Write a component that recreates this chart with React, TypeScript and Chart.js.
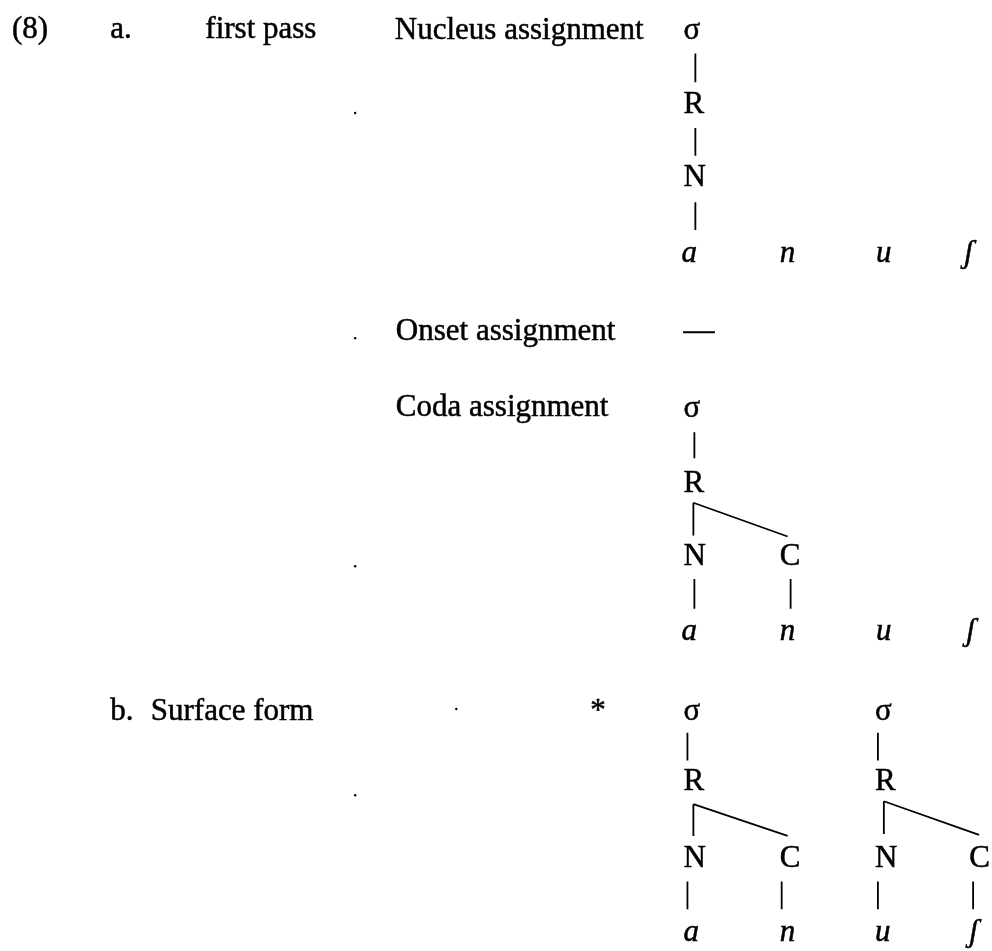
import React, { useEffect, useRef } from "react";
import { Chart, registerables } from "chart.js";

Chart.register(...registerables);

// Diagram coordinate space: x 0..992 (left→right), y 0..951 (top→bottom)
const W = 992;
const H = 951;

// Plain labels (upright text), anchored left at baseline
const labelTexts = ["(8)", "a.", "first pass", "Nucleus assignment", "Onset assignment", "—", "Coda assignment", "b.", "Surface form", "*"];
const labelX = [8, 107, 203, 394, 395, 685, 395, 107, 148, 591];
const labelY = [34, 34, 34, 35, 339, 339, 415, 722, 722, 722];

// Tree node symbols (upright)
const nodeTexts = ["σ", "R", "N", "σ", "R", "N", "C", "σ", "R", "N", "C", "σ", "R", "N", "C"];
const nodeX = [685, 685, 685, 685, 685, 685, 782, 685, 685, 685, 782, 878, 878, 878, 973];
const nodeY = [35, 110, 184, 417, 492, 566, 566, 722, 793, 870, 870, 722, 793, 870, 870];

// Segments (italic) of the word
const segTexts = ["a", "n", "u", "ʃ", "a", "n", "u", "ʃ", "a", "n", "u", "ʃ"];
const segX = [683, 782, 879, 968, 683, 782, 879, 970, 685, 782, 878, 973];
const segY = [260, 260, 260, 260, 641, 641, 641, 641, 945, 945, 945, 945];

// Association lines: [x1, y1, x2, y2]
const branchLines = [
  [697, 50, 697, 79],
  [697, 125, 697, 153],
  [697, 200, 697, 228],
  [696, 432, 696, 458],
  [695, 503, 695, 536],
  [695, 503, 790, 537],
  [696, 580, 696, 610],
  [793, 580, 793, 610],
  [689, 735, 689, 763],
  [695, 807, 695, 839],
  [695, 807, 790, 839],
  [689, 885, 689, 913],
  [784, 885, 784, 913],
  [881, 735, 881, 763],
  [887, 804, 887, 837],
  [887, 804, 983, 838],
  [881, 885, 881, 913],
  [977, 885, 977, 913],
];

// Stray scan dots
const dotX = [354, 354, 354, 354, 456];
const dotY = [110, 337, 567, 798, 711];

const FONT_FAMILY = '"Liberation Serif", "Times New Roman", "DejaVu Serif", serif';

const textPlugin = {
  id: "textMarks",
  afterDatasetsDraw(chart: any) {
    const ctx = chart.ctx;
    chart.data.datasets.forEach((ds: any, di: number) => {
      if (!ds.texts) return;
      const meta = chart.getDatasetMeta(di);
      ctx.save();
      ctx.fillStyle = "#000";
      ctx.strokeStyle = "#000";
      ctx.lineWidth = 0.5;
      ctx.textAlign = "left";
      ctx.textBaseline = "alphabetic";
      ctx.font = `${ds.italic ? "italic " : ""}31px ${FONT_FAMILY}`;
      meta.data.forEach((el: any, i: number) => {
        ctx.fillText(ds.texts[i], el.x, el.y);
        ctx.strokeText(ds.texts[i], el.x, el.y);
      });
      ctx.restore();
    });
  },
};

function toPoints(xs: number[], ys: number[]) {
  return xs.map((x, i) => ({ x, y: ys[i] }));
}

export default function App() {
  const ref = useRef<HTMLCanvasElement | null>(null);

  useEffect(() => {
    if (!ref.current) return;
    const datasets: any[] = [];
    branchLines.forEach((s) => {
      datasets.push({
        data: [
          { x: s[0], y: s[1] },
          { x: s[2], y: s[3] },
        ],
        showLine: true,
        borderColor: "#000",
        borderWidth: 1.8,
        pointRadius: 0,
        fill: false,
      });
    });
    datasets.push({
      data: toPoints(dotX, dotY),
      pointRadius: 1.2,
      pointBackgroundColor: "#000",
      pointBorderWidth: 0,
      showLine: false,
    });
    datasets.push({ data: toPoints(labelX, labelY), texts: labelTexts, italic: false, pointRadius: 0, showLine: false });
    datasets.push({ data: toPoints(nodeX, nodeY), texts: nodeTexts, italic: false, pointRadius: 0, showLine: false });
    datasets.push({ data: toPoints(segX, segY), texts: segTexts, italic: true, pointRadius: 0, showLine: false });

    const chart = new Chart(ref.current, {
      type: "scatter",
      data: { datasets },
      options: {
        animation: false,
        responsive: false,
        maintainAspectRatio: false,
        devicePixelRatio: 1,
        events: [],
        layout: { padding: 0 },
        plugins: { legend: { display: false }, tooltip: { enabled: false } },
        scales: {
          x: { type: "linear", min: 0, max: W, display: false },
          y: { type: "linear", min: 0, max: H, reverse: true, display: false },
        },
      },
      plugins: [textPlugin],
    } as any);
    return () => chart.destroy();
  }, []);

  return (
    <div style={{ position: "absolute", left: 0, top: 0, width: W, height: H, background: "#fff" }}>
      <canvas ref={ref} width={W} height={H} style={{ width: W, height: H, display: "block" }} />
    </div>
  );
}
